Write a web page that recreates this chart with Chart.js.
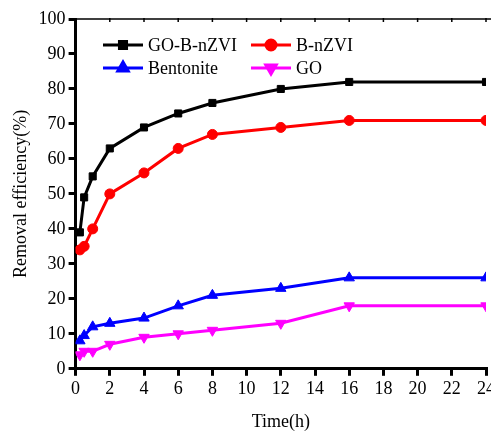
<!DOCTYPE html>
<html>
<head>
<meta charset="utf-8">
<script src="https://cdn.jsdelivr.net/npm/chart.js@4/dist/chart.umd.min.js"></script>
<style>
	html, body { margin: 0; padding: 0; overflow: hidden; background: #fff; }
	#wrap { width: 520px; height: 436px; }
</style>
</head>
<body>
<div id="wrap"><canvas id="chart"></canvas></div>
<script>
const times = [0.25, 0.5, 1, 2, 4, 6, 8, 12, 16, 24];
const goBnzvi = [39, 49, 55, 63, 69, 73, 76, 80, 82, 82];
const bnzvi = [34, 35, 40, 50, 56, 63, 67, 69, 71, 71];
const bentonite = [8, 9.5, 12, 13, 14.5, 18, 21, 23, 26, 26];
const go = [4, 5, 5, 7, 9, 10, 11, 13, 18, 18];

const serif = "'Liberation Serif', 'Times New Roman', serif";

function series(label, values, color, style, radius, rotation) {
	return {
		label: label,
		data: values.map((v, i) => ({ x: times[i], y: v })),
		borderColor: color,
		backgroundColor: color,
		borderWidth: 3,
		pointStyle: style,
		pointRadius: radius,
		pointRotation: rotation || 0,
		pointBorderWidth: 1,
		tension: 0,
	};
}

// top frame line with small inward ticks
const topFrame = {
	id: "topFrame",
	afterDraw(chart) {
		const ctx = chart.ctx;
		const area = chart.chartArea;
		const xs = chart.scales.x;
		ctx.save();
		ctx.strokeStyle = "#000";
		ctx.lineWidth = 1.5;
		ctx.beginPath();
		ctx.moveTo(area.left, area.top);
		ctx.lineTo(area.right + 10, area.top);
		xs.ticks.forEach((t) => {
			const px = xs.getPixelForValue(t.value);
			ctx.moveTo(px, area.top - 1);
			ctx.lineTo(px, area.top + 3);
		});
		ctx.stroke();
		ctx.restore();
	},
};

// two-column legend inside the plot
const insideLegend = {
	id: "insideLegend",
	afterDraw(chart) {
		const ctx = chart.ctx;
		const spots = [
			[103, 45],
			[251, 45],
			[103, 68],
			[251, 68],
		];
		ctx.save();
		chart.data.datasets.forEach((ds, i) => {
			const [x, y] = spots[i];
			ctx.strokeStyle = ds.borderColor;
			ctx.lineWidth = 3;
			ctx.beginPath();
			ctx.moveTo(x, y);
			ctx.lineTo(x + 40, y);
			ctx.stroke();
			ctx.fillStyle = ds.backgroundColor;
			Chart.helpers.drawPoint(
				ctx,
				{
					pointStyle: ds.pointStyle,
					radius: ds.pointRadius,
					rotation: ds.pointRotation,
					borderWidth: 1,
				},
				x + 20,
				y
			);
			ctx.fill();
			ctx.fillStyle = "#000";
			ctx.font = "18px " + serif;
			ctx.textBaseline = "middle";
			ctx.fillText(ds.label, x + 45, y + 1);
		});
		ctx.restore();
	},
};

new Chart(document.getElementById("chart"), {
	type: "line",
	data: {
		datasets: [
			series("GO-B-nZVI", goBnzvi, "#000000", "rect", 5),
			series("B-nZVI", bnzvi, "#ff0000", "circle", 5),
			series("Bentonite", bentonite, "#0000ff", "triangle", 6),
			series("GO", go, "#ff00ff", "triangle", 6, 180),
		],
	},
	options: {
		responsive: true,
		maintainAspectRatio: false,
		animation: false,
		layout: { padding: { top: 19, right: 34, left: 10, bottom: 3 } },
		plugins: {
			legend: { display: false },
			tooltip: { enabled: false },
		},
		scales: {
			x: {
				type: "linear",
				min: 0,
				max: 24,
				ticks: {
					stepSize: 2,
					color: "#000",
					padding: 3,
					maxRotation: 0,
					font: { family: serif, size: 18 },
				},
				grid: {
					drawOnChartArea: false,
					color: "#000",
					tickLength: 7,
					lineWidth: 3,
				},
				border: { color: "#000", width: 3 },
				title: {
					display: true,
					text: "Time(h)",
					color: "#000",
					padding: { top: 8, bottom: 0 },
					font: { family: serif, size: 18 },
				},
			},
			y: {
				min: 0,
				max: 100,
				ticks: {
					stepSize: 10,
					color: "#000",
					padding: 3,
					font: { family: serif, size: 18 },
				},
				grid: {
					drawOnChartArea: false,
					color: "#000",
					tickLength: 7,
					lineWidth: 3,
				},
				border: { color: "#000", width: 3 },
				title: {
					display: true,
					text: "Removal efficiency(%)",
					color: "#000",
					padding: { top: 0, bottom: 4 },
					font: { family: serif, size: 18 },
				},
			},
		},
	},
	plugins: [topFrame, insideLegend],
});
</script>
</body>
</html>
